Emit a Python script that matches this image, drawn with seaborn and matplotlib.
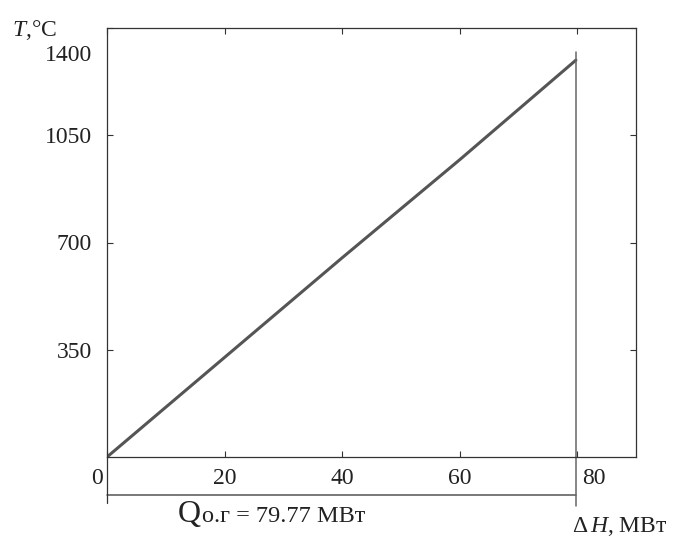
import pandas as pd
import matplotlib.pyplot as plt
import seaborn as sns

# Data
dh = [0, 20, 40, 60, 79.77]          # MW
temp = [0, 325, 650, 970, 1295]      # deg C
x_ticks = [0, 20, 40, 60, 80]
x_labels = ['', '20', '40', '60', '']
y_ticks = [350, 700, 1050, 1400]
y_labels = ['350', '700', '1050', '']
q_total = dh[-1]

sns.set_style("ticks")
plt.rcParams['font.family'] = ['Liberation Serif', 'DejaVu Serif']
plt.rcParams['mathtext.fontset'] = 'custom'
plt.rcParams['mathtext.rm'] = 'Liberation Serif'
plt.rcParams['mathtext.it'] = 'Liberation Serif:italic'

FS = 17
TXT = '#222222'
W, H = 674, 541
fig = plt.figure(figsize=(W / 100, H / 100), dpi=100)
ax = fig.add_axes([107 / W, 1 - 457 / H, 529 / W, 429 / H])

df = pd.DataFrame({"dh": dh, "t": temp})
sns.lineplot(data=df, x="dh", y="t", ax=ax, color="#555555", lw=2.2)

ax.set_xlim(0, 90)
ax.set_ylim(0, 1400)
ax.set_xticks(x_ticks)
ax.set_xticklabels(x_labels)
ax.set_yticks(y_ticks)
ax.set_yticklabels(y_labels)
ax.set_xlabel('')
ax.set_ylabel('')
ax.tick_params(direction='in', top=True, right=True, length=4, width=0.8,
               labelsize=FS, colors='#333333', labelcolor=TXT)
ax.tick_params(axis='x', pad=8)
ax.tick_params(axis='y', pad=11)
for s in ax.spines.values():
    s.set_linewidth(0.9)
    s.set_color('#333333')

# odd placed tick labels
ax.annotate('0', xy=(0, 0), xycoords=('data', 'axes fraction'),
            xytext=(-10, -27), textcoords='offset pixels',
            ha='center', va='baseline', fontsize=FS, color=TXT)
ax.annotate('80', xy=(80, 0), xycoords=('data', 'axes fraction'),
            xytext=(5, -27), textcoords='offset pixels',
            ha='left', va='baseline', fontsize=FS, color=TXT)
ax.annotate('1400', xy=(0, 1400), xycoords='data',
            xytext=(-15, -33), textcoords='offset pixels',
            ha='right', va='baseline', fontsize=FS, color=TXT)

# bracket for Q below the axis
tr = ax.get_xaxis_transform()
ax.plot([0, q_total], [-0.0886, -0.0886], transform=tr, clip_on=False,
        color='#555555', lw=1.1)
ax.plot([0, 0], [0, -0.107], transform=tr, clip_on=False,
        color='#333333', lw=0.9)
ax.plot([q_total, q_total], [-0.114, 0.945], transform=tr, clip_on=False,
        color='#666666', lw=1.1)

# axis titles
fig.text(12 / W, 1 - 36 / H, r'$T$,°C', fontsize=FS, ha='left',
         va='baseline', color=TXT)
fig.text(178 / W, 1 - 522 / H, 'Q', fontsize=23, ha='left',
         va='baseline', color=TXT)
fig.text(202 / W, 1 - 522 / H, 'о.г = 79.77 МВт', fontsize=FS + 0.5,
         ha='left', va='baseline', color=TXT)
fig.text(668 / W, 1 - 532 / H, r'$\Delta\,H$, МВт', fontsize=FS,
         ha='right', va='baseline', color=TXT)

fig.savefig('out.png', dpi=100)
